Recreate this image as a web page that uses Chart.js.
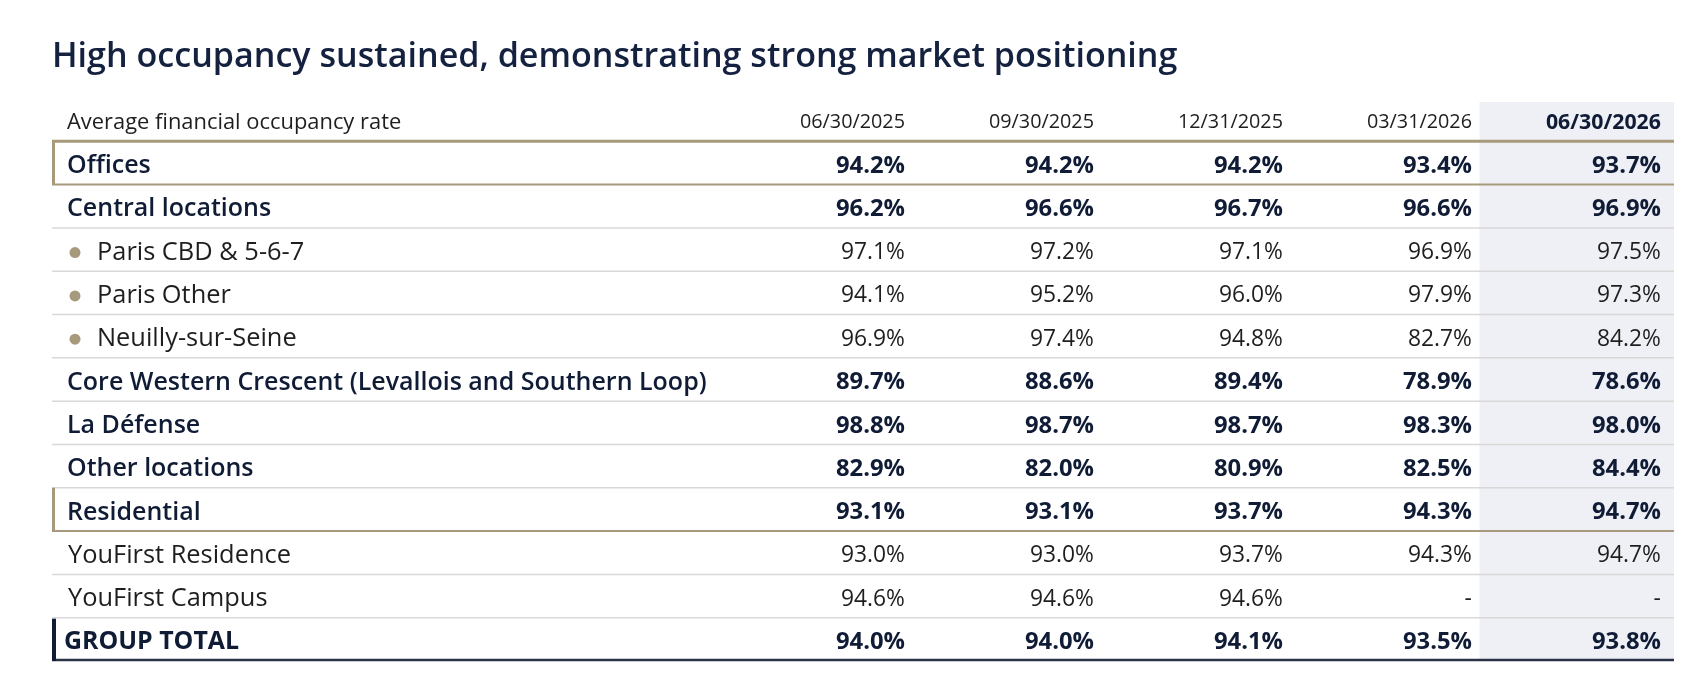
<!DOCTYPE html>
<html lang="en">
<head>
  <meta charset="UTF-8">
  <title>Occupancy</title>
  <script src="https://cdn.jsdelivr.net/npm/chart.js@4"></script>
  <style>
    html, body { margin: 0; padding: 0; background: #fff; }
    #wrap { width: 1694px; height: 678px; position: relative; }
  </style>
</head>
<body>
  <div id="wrap"><canvas id="tabla"></canvas></div>

  <script>
    /* --- Datos --- */
    const title       = 'High occupancy sustained, demonstrating strong market positioning';
    const headerLabel = 'Average financial occupancy rate';
    const periods     = ['06/30/2025', '09/30/2025', '12/31/2025', '03/31/2026', '06/30/2026'];
    const rows = ['Offices', 'Central locations', 'Paris CBD & 5-6-7', 'Paris Other',
                  'Neuilly-sur-Seine', 'Core Western Crescent (Levallois and Southern Loop)',
                  'La Défense', 'Other locations', 'Residential', 'YouFirst Residence',
                  'YouFirst Campus', 'GROUP TOTAL'];
    const rowKinds = ['segment', 'bold', 'bullet', 'bullet', 'bullet', 'bold',
                      'bold', 'bold', 'segment', 'plain', 'plain', 'total'];

    const jun2025 = [94.2, 96.2, 97.1, 94.1, 96.9, 89.7, 98.8, 82.9, 93.1, 93.0, 94.6, 94.0];
    const sep2025 = [94.2, 96.6, 97.2, 95.2, 97.4, 88.6, 98.7, 82.0, 93.1, 93.0, 94.6, 94.0];
    const dec2025 = [94.2, 96.7, 97.1, 96.0, 94.8, 89.4, 98.7, 80.9, 93.7, 93.7, 94.6, 94.1];
    const mar2026 = [93.4, 96.6, 96.9, 97.9, 82.7, 78.9, 98.3, 82.5, 94.3, 94.3, null, 93.5];
    const jun2026 = [93.7, 96.9, 97.5, 97.3, 84.2, 78.6, 98.0, 84.4, 94.7, 94.7, null, 93.8];
    const series  = [jun2025, sep2025, dec2025, mar2026, jun2026];

    /* --- Estilo --- */
    const FAMILY = '"Open Sans", "DejaVu Sans", sans-serif';
    const NAVY = '#101c36', INK = '#1e1e1e', GOLD = '#a79a7c', GRAY = '#d8d8d8';
    const DY = 3;   // el texto cae un poco por debajo del centro de la fila

    // ajusta el tamaño de fuente al ancho medido en la referencia
    const meas = document.createElement('canvas').getContext('2d');
    function fit (text, weight, target) {
      meas.font = `${weight} 100px ${FAMILY}`;
      return Math.round(1000 * target / meas.measureText(text).width) / 10;
    }
    const sTitle = fit(title, 600, 1126);
    const sBold  = fit(rows[5], 600, 640);
    const sPlain = fit('YouFirst Residence', 400, 223);
    const sHead  = fit(headerLabel, 400, 335);
    const sValB  = fit('93.4%', 700, 69);
    const sValR  = fit('97.1%', 400, 64);
    const sDate  = fit('03/31/2026', 400, 105);
    const sDateB = fit('06/30/2026', 700, 115);
    const sTotal = fit('GROUP TOTAL', 700, 175);

    const font = (w, s) => `${w} ${s}px ${FAMILY}`;
    const isBold = k => k !== 'bullet' && k !== 'plain';

    /* --- Plugin que dibuja la tabla sobre las escalas --- */
    const tablePlugin = {
      id: 'tabla',
      beforeDatasetsDraw (chart) {
        const { ctx, chartArea: a, scales: { x, y } } = chart;
        const band = y.getPixelForValue(1) - y.getPixelForValue(0);
        const bottomOf = i => y.getPixelForValue(i) + band / 2;

        ctx.save();
        // columna más reciente sombreada
        const sx = x.getPixelForValue(periods.length + 0.04 - 1);
        const sy = y.getPixelForValue(0) - band / 2 + 4;
        ctx.fillStyle = '#eef0f5';
        ctx.fillRect(sx, sy, a.right - sx, a.bottom - sy);

        const hline = (yy, color, w) => {
          ctx.strokeStyle = color; ctx.lineWidth = w;
          ctx.beginPath(); ctx.moveTo(a.left, yy); ctx.lineTo(a.right, yy); ctx.stroke();
        };

        hline(bottomOf(0), GOLD, 3);
        rowKinds.forEach((k, r) => {
          const i = r + 1;
          const top = bottomOf(i - 1), bot = bottomOf(i);
          if (k === 'segment') {
            hline(bot, GOLD, 2);
            ctx.fillStyle = GOLD; ctx.fillRect(a.left, top, 3, bot - top);
          } else if (k === 'total') {
            hline(bot - 1, '#2a3348', 2.5);
            ctx.fillStyle = NAVY; ctx.fillRect(a.left, top + 1, 4, bot - top - 1);
          } else if (rowKinds[r + 1] !== undefined) {
            hline(bot, GRAY, 1.5);
          }
        });
        ctx.restore();
      },
      afterDatasetsDraw (chart) {
        const { ctx, chartArea: a, scales: { x, y } } = chart;
        ctx.save();
        ctx.textBaseline = 'middle';

        // cabecera
        const hy = y.getPixelForValue(0) + DY;
        ctx.fillStyle = INK; ctx.font = font(400, sHead); ctx.textAlign = 'left';
        ctx.fillText(headerLabel, a.left + 15, hy);
        ctx.textAlign = 'right';
        periods.forEach((p, j) => {
          const last = j === periods.length - 1;
          ctx.fillStyle = last ? NAVY : INK;
          ctx.font = last ? font(700, sDateB) : font(400, sDate);
          ctx.fillText(p, x.getPixelForValue(j + 1), hy);
        });

        // etiquetas de fila
        ctx.textAlign = 'left';
        rows.forEach((lab, r) => {
          const k = rowKinds[r], yy = y.getPixelForValue(lab) + DY;
          if (k === 'bullet') {
            ctx.fillStyle = GOLD;
            ctx.beginPath(); ctx.arc(a.left + 23, yy, 5.5, 0, Math.PI * 2); ctx.fill();
            ctx.fillStyle = INK; ctx.font = font(400, sPlain);
            ctx.fillText(lab, a.left + 45, yy);
          } else if (k === 'plain') {
            ctx.fillStyle = INK; ctx.font = font(400, sPlain);
            ctx.fillText(lab, a.left + 16, yy);
          } else if (k === 'total') {
            ctx.fillStyle = NAVY; ctx.font = font(700, sTotal);
            ctx.fillText(lab, a.left + 12, yy);
          } else {
            ctx.fillStyle = NAVY; ctx.font = font(600, sBold);
            ctx.fillText(lab, a.left + 15, yy);
          }
        });

        // valores, en la posición que calcula Chart.js para cada punto
        ctx.textAlign = 'right';
        chart.data.datasets.forEach((ds, j) => {
          chart.getDatasetMeta(j).data.forEach((pt, r) => {
            const v = ds.data[r].v, k = rowKinds[r];
            if (isBold(k)) { ctx.fillStyle = NAVY; ctx.font = font(700, sValB); }
            else           { ctx.fillStyle = INK;  ctx.font = font(400, sValR); }
            ctx.fillText(v == null ? '-' : v.toFixed(1) + '%', pt.x, pt.y + DY);
          });
        });
        ctx.restore();
      }
    };

    /* --- Gráfico --- */
    const lineH = sTitle * 1.2;
    const padTop = 57 - lineH / 2;

    new Chart(document.getElementById('tabla'), {
      type: 'scatter',
      data: {
        datasets: series.map((s, j) => ({
          label: periods[j],
          data: rows.map((r, i) => ({ x: j + 1, y: r, v: s[i] })),
          pointRadius: 0,
          pointHoverRadius: 0
        }))
      },
      options: {
        responsive: true,
        maintainAspectRatio: false,
        animation: false,
        events: [],
        layout: { padding: { left: 52, right: 20, top: 0, bottom: 17 } },
        scales: {
          x: { type: 'linear', min: -3.513, max: 5.069, display: false },
          y: { type: 'category', labels: [headerLabel, ...rows], offset: true, display: false }
        },
        plugins: {
          legend: { display: false },
          tooltip: { enabled: false },
          title: {
            display: true, text: title, align: 'start', color: '#14213f',
            font: { family: FAMILY, size: sTitle, weight: 600, lineHeight: 1.2 },
            padding: { top: padTop, bottom: 98 - padTop - lineH }
          }
        }
      },
      plugins: [tablePlugin]
    });
  </script>
</body>
</html>
